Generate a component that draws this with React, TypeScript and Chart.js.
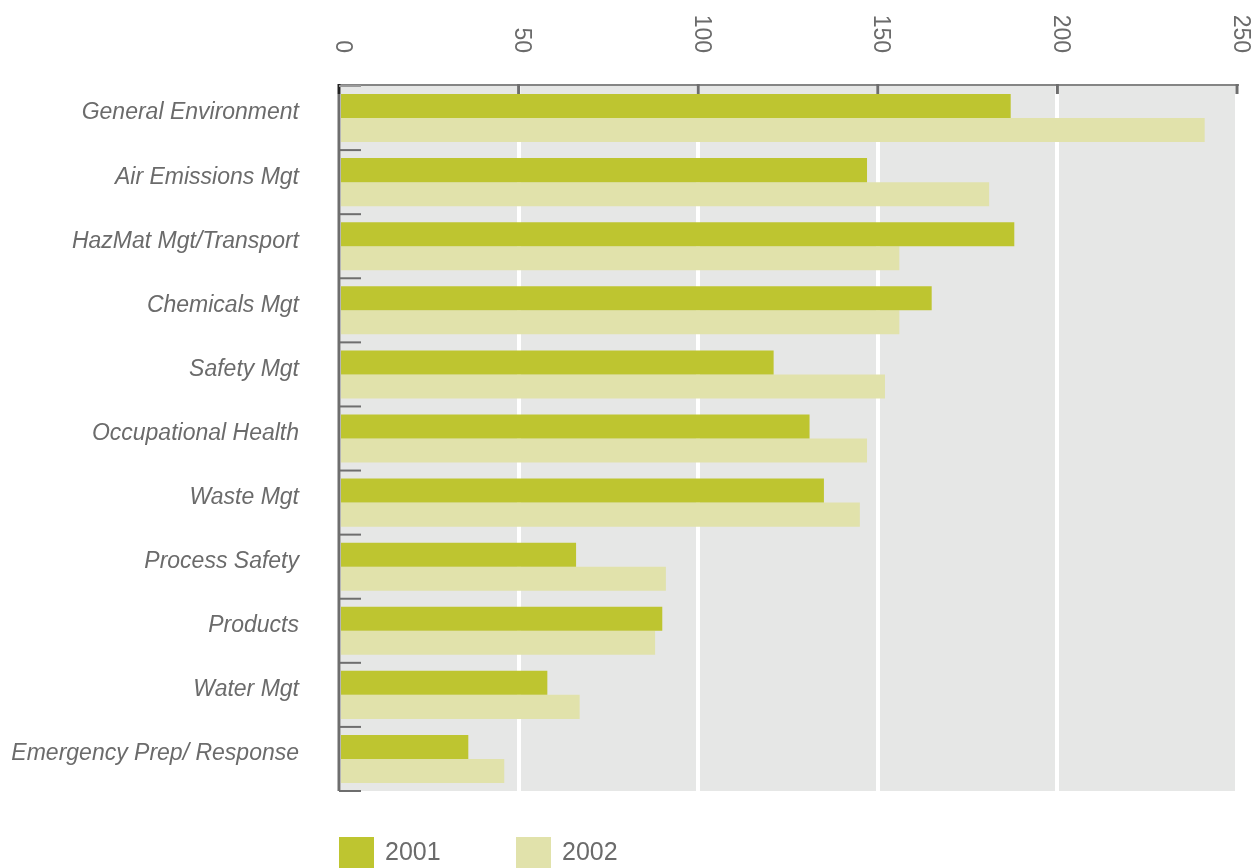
import { useEffect, useRef } from "react";
import { Chart, registerables } from "chart.js";

Chart.register(...registerables);

const categories = [
  "General Environment",
  "Air Emissions Mgt",
  "HazMat Mgt/Transport",
  "Chemicals Mgt",
  "Safety Mgt",
  "Occupational Health",
  "Waste Mgt",
  "Process Safety",
  "Products",
  "Water Mgt",
  "Emergency Prep/ Response",
];
const series2001 = [187, 147, 188, 165, 121, 131, 135, 66, 90, 58, 36];
const series2002 = [241, 181, 156, 156, 152, 147, 145, 91, 88, 67, 46];
const seriesLabels = ["2001", "2002"];
const xTicks = [0, 50, 100, 150, 200, 250];

const COLOR_2001 = "#bec530";
const COLOR_2002 = "#e1e2ab";
const PLOT_BG = "#e6e7e6";
const AXIS = "#6e6e6e";
const TEXT = "#6b6b6b";
const FONT_FAMILY = "'Liberation Sans', Arial, sans-serif";

const decorPlugin = {
  id: "decor",
  beforeDraw(chart: any) {
    const { ctx, chartArea } = chart;
    ctx.save();
    ctx.fillStyle = PLOT_BG;
    ctx.fillRect(chartArea.left, chartArea.top, chartArea.right - chartArea.left, chartArea.bottom - chartArea.top);
    ctx.restore();
  },
  afterDraw(chart: any) {
    const { ctx, chartArea } = chart;
    const xs = chart.scales.x;
    const ys = chart.scales.y;
    ctx.save();
    // top axis line
    ctx.strokeStyle = "#858585";
    ctx.lineWidth = 2;
    ctx.beginPath();
    ctx.moveTo(chartArea.left - 1, chartArea.top - 1);
    ctx.lineTo(chartArea.right + 2, chartArea.top - 1);
    ctx.stroke();
    // top tick marks
    ctx.lineWidth = 3;
    xTicks.forEach((v, i) => {
      const px = xs.getPixelForValue(v);
      ctx.strokeStyle = i === 0 ? "#222222" : AXIS;
      ctx.beginPath();
      ctx.moveTo(px, chartArea.top - 2);
      ctx.lineTo(px, chartArea.top + 8);
      ctx.stroke();
    });
    // left axis line
    ctx.strokeStyle = AXIS;
    ctx.lineWidth = 3;
    ctx.beginPath();
    ctx.moveTo(chartArea.left, chartArea.top + 8);
    ctx.lineTo(chartArea.left, chartArea.bottom);
    ctx.stroke();
    // category boundary ticks
    const band = (chartArea.bottom - chartArea.top) / categories.length;
    ctx.lineWidth = 2;
    for (let i = 0; i <= categories.length; i++) {
      const py = i < categories.length ? ys.getPixelForValue(i) - band / 2 : ys.getPixelForValue(i - 1) + band / 2;
      ctx.strokeStyle = i === 0 ? "#9a9a9a" : AXIS;
      ctx.beginPath();
      ctx.moveTo(chartArea.left, py);
      ctx.lineTo(chartArea.left + 22, py);
      ctx.stroke();
    }
    // rotated x tick labels
    ctx.fillStyle = TEXT;
    ctx.font = `23px ${FONT_FAMILY}`;
    xTicks.forEach((v) => {
      const px = xs.getPixelForValue(v);
      ctx.save();
      ctx.translate(px + 3, chartArea.top - 33);
      ctx.rotate(Math.PI / 2);
      ctx.textAlign = "right";
      ctx.textBaseline = "middle";
      ctx.fillText(String(v), 0, 0);
      ctx.restore();
    });
    // legend
    ctx.font = `25px ${FONT_FAMILY}`;
    ctx.textAlign = "left";
    ctx.textBaseline = "middle";
    chart.data.datasets.forEach((ds: any, i: number) => {
      const bx = chartArea.left + i * 177;
      const by = chartArea.bottom + 46;
      ctx.fillStyle = ds.backgroundColor;
      ctx.fillRect(bx, by, 35, 35);
      ctx.fillStyle = TEXT;
      ctx.fillText(ds.label, bx + 46, by + 16);
    });
    ctx.restore();
  },
};

export default function App() {
  const ref = useRef<HTMLCanvasElement | null>(null);
  useEffect(() => {
    if (!ref.current) return;
    const chart = new Chart(ref.current, {
      type: "bar",
      data: {
        labels: categories,
        datasets: [
          { label: seriesLabels[0], data: series2001, backgroundColor: COLOR_2001, borderWidth: 0 },
          { label: seriesLabels[1], data: series2002, backgroundColor: COLOR_2002, borderWidth: 0 },
        ],
      },
      options: {
        indexAxis: "y",
        responsive: false,
        animation: false,
        devicePixelRatio: 1,
        layout: { padding: { left: 0, right: 23, top: 0, bottom: 77 } },
        datasets: { bar: { categoryPercentage: 0.75, barPercentage: 1 } },
        plugins: { legend: { display: false }, tooltip: { enabled: false } },
        scales: {
          x: {
            position: "top",
            min: 0,
            max: 250,
            ticks: { display: false, stepSize: 50 },
            grid: { color: "#ffffff", lineWidth: 4, drawTicks: false },
            border: { display: false },
            afterFit: (scale: any) => {
              scale.height = 86;
            },
          },
          y: {
            grid: { display: false, drawTicks: false },
            border: { display: false },
            ticks: {
              color: TEXT,
              padding: 40,
              labelOffset: -5,
              font: { family: FONT_FAMILY, size: 23, style: "italic" },
            },
            afterFit: (scale: any) => {
              scale.width = 339;
            },
          },
        },
      } as any,
      plugins: [decorPlugin],
    });
    return () => chart.destroy();
  }, []);
  return (
    <div style={{ position: "fixed", left: 0, top: 0, width: 1260, height: 868, background: "#ffffff" }}>
      <canvas ref={ref} width={1260} height={868} style={{ display: "block" }} />
    </div>
  );
}
